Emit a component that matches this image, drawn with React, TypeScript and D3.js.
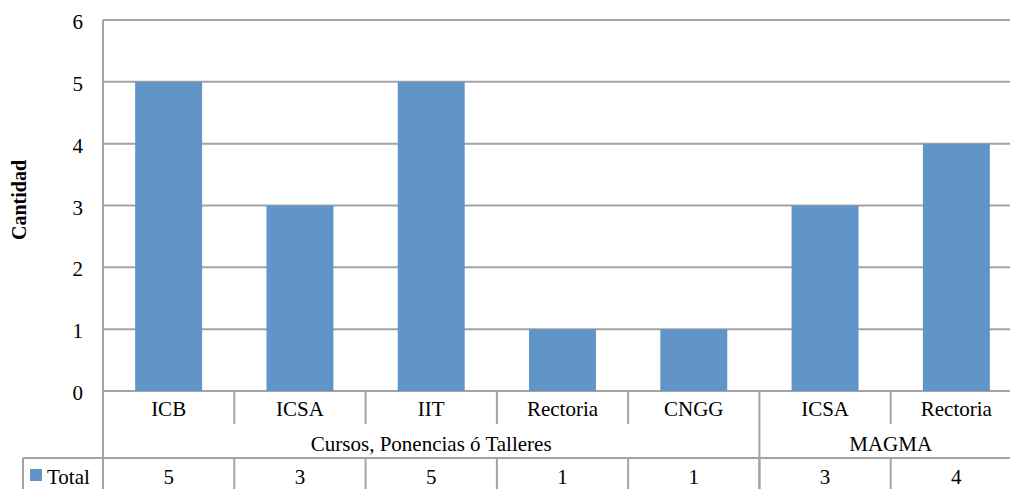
import React from "react";
import * as d3 from "d3";

const groups = ["Cursos, Ponencias ó Talleres", "MAGMA"];
const groupSizes = [5, 2];
const categories = ["ICB", "ICSA", "IIT", "Rectoria", "CNGG", "ICSA", "Rectoria"];
const values = [5, 3, 5, 1, 1, 3, 4];
const yTicks = [0, 1, 2, 3, 4, 5, 6];
const seriesName = "Total";

const W = 1010;
const H = 489;
const left = 103;
const right = 1022;
const top = 20;
const base = 391;
const row1 = 424;
const row2 = 458;
const legendLeft = 23;
const font = "'Liberation Serif', 'DejaVu Serif', serif";
const fs = 21;
const grid = "#a3a3a3";
const barColor = "#6195c8";

export default function App() {
  const idx = categories.map((_, i) => i);
  const x = d3.scaleBand<number>().domain(idx).range([left, right]).paddingInner(0.49).paddingOuter(0.245);
  const step = (right - left) / categories.length;
  const y = d3.scaleLinear().domain([0, 6]).range([base, top]);

  const groupStarts: number[] = [];
  let acc = 0;
  groupSizes.forEach((s) => {
    groupStarts.push(acc);
    acc += s;
  });

  return (
    <svg width={W} height={H} style={{ position: "absolute", left: 0, top: 0, background: "#fff" }}>
      {yTicks.map((t) => (
        <g key={t}>
          <line x1={left} x2={right} y1={y(t)} y2={y(t)} stroke={grid} strokeWidth={2} />
          <text x={83} y={y(t) + 9} textAnchor="end" fontFamily={font} fontSize={fs} fill="#000">
            {t}
          </text>
        </g>
      ))}
      {values.map((v, i) => (
        <rect key={i} x={x(i)} y={y(v)} width={x.bandwidth()} height={y(0) - y(v)} fill={barColor} />
      ))}
      <line x1={left} x2={left} y1={top} y2={H} stroke={grid} strokeWidth={2} />
      {idx.slice(1).map((i) => {
        const isGroup = groupStarts.includes(i);
        const xx = left + step * i;
        return (
          <g key={i}>
            <line x1={xx} x2={xx} y1={base} y2={isGroup ? H : row1} stroke={grid} strokeWidth={2} />
            <line x1={xx} x2={xx} y1={row2} y2={H} stroke={grid} strokeWidth={2} />
          </g>
        );
      })}
      <line x1={legendLeft} x2={right} y1={row2} y2={row2} stroke={grid} strokeWidth={2} />
      <line x1={legendLeft} x2={legendLeft} y1={row2} y2={H} stroke={grid} strokeWidth={2} />
      {categories.map((c, i) => (
        <text key={i} x={left + step * (i + 0.5)} y={416} textAnchor="middle" fontFamily={font} fontSize={fs} fill="#000">
          {c}
        </text>
      ))}
      {groups.map((g, gi) => (
        <text
          key={gi}
          x={left + step * (groupStarts[gi] + groupSizes[gi] / 2)}
          y={451}
          textAnchor="middle"
          fontFamily={font}
          fontSize={fs}
          fill="#000"
        >
          {g}
        </text>
      ))}
      <rect x={30} y={469} width={12} height={12} fill={barColor} />
      <text x={47} y={484} fontFamily={font} fontSize={fs} fill="#000">
        {seriesName}
      </text>
      {values.map((v, i) => (
        <text key={i} x={left + step * (i + 0.5)} y={484} textAnchor="middle" fontFamily={font} fontSize={fs} fill="#000">
          {v}
        </text>
      ))}
      <text
        transform={`translate(26, 200) rotate(-90)`}
        textAnchor="middle"
        fontFamily={font}
        fontSize={20}
        fontWeight="bold"
        fill="#000"
      >
        Cantidad
      </text>
    </svg>
  );
}
